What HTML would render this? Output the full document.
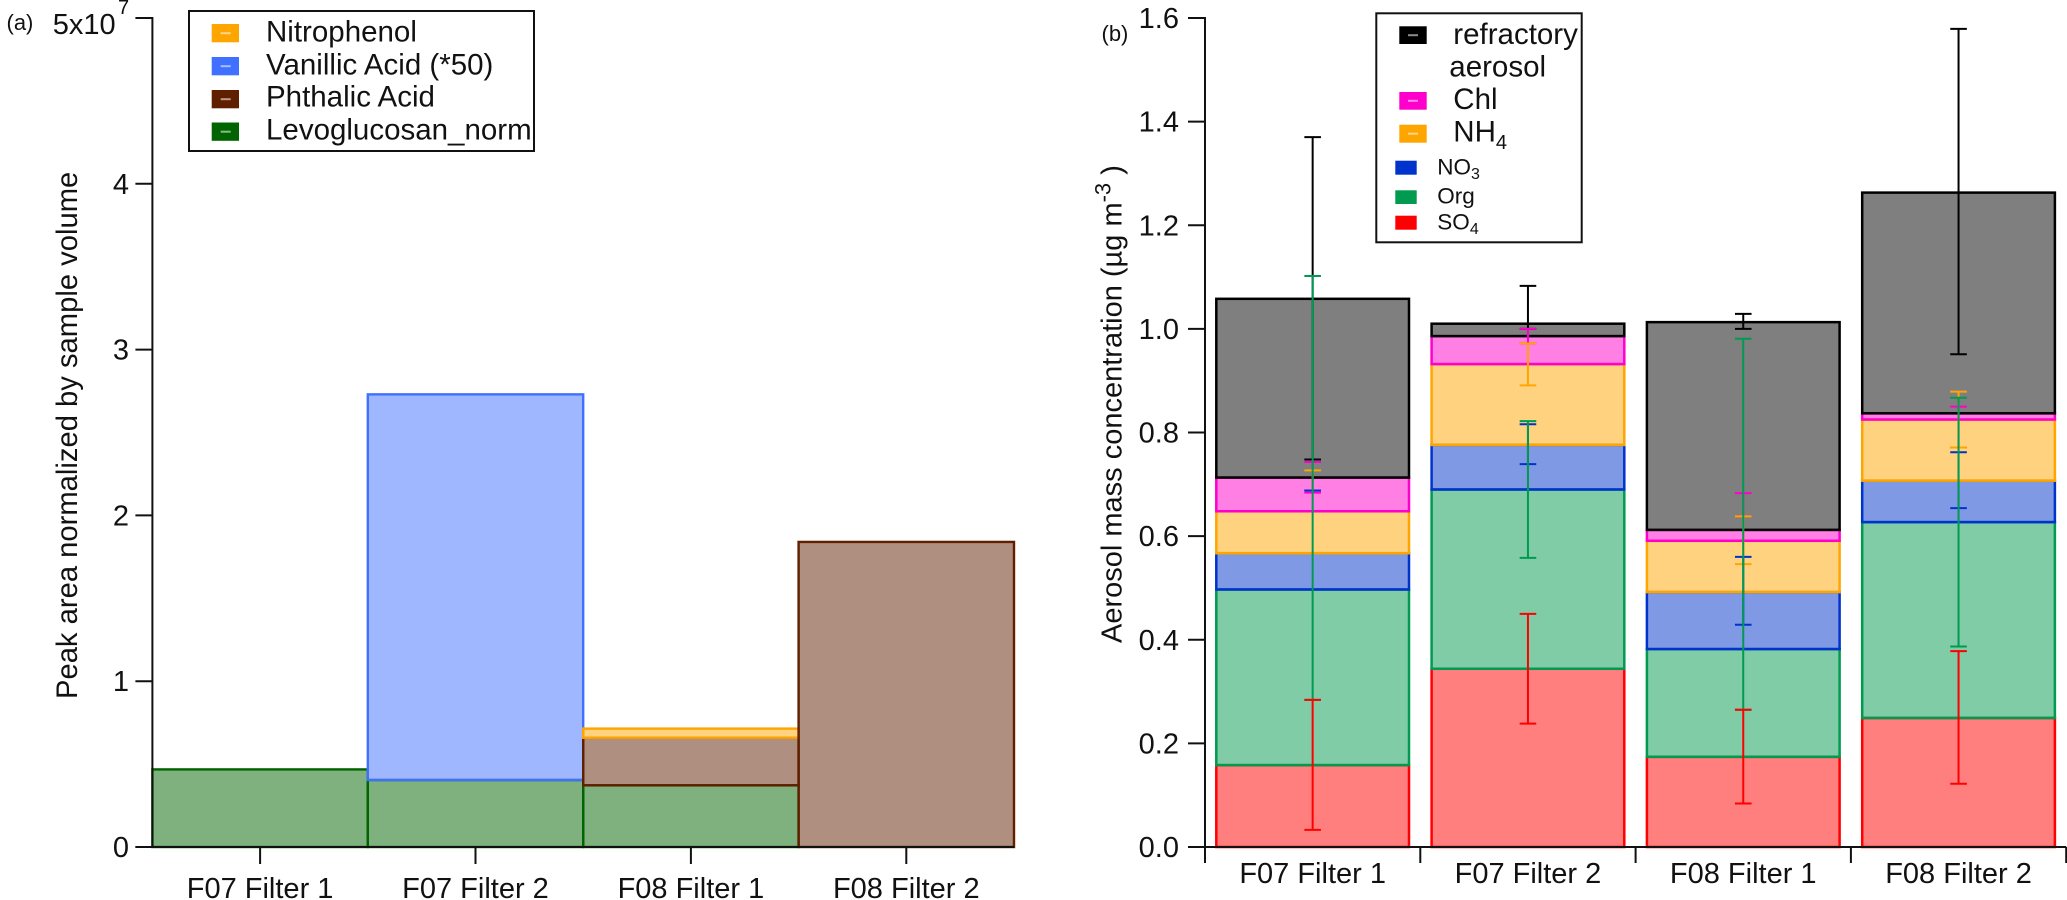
<!DOCTYPE html>
<html lang="en">
<head>
<meta charset="utf-8">
<title>Filter peak areas and aerosol mass concentration</title>
<style>
html,body{margin:0;padding:0;background:#fff;width:2067px;height:900px;overflow:hidden}
svg{display:block}
text{font-family:"Liberation Sans",Arial,sans-serif;fill:#111}
</style>
</head>
<body>
<svg id="chart" xmlns="http://www.w3.org/2000/svg" width="2067" height="900" viewBox="0 0 2067 900">
  <g id="panel-a">
    <text x="6.5" y="30" font-size="22">(a)</text>
    <g id="a-bars"></g>
    <g id="a-axes"></g>
    <text transform="translate(77,699) rotate(-90)" font-size="29.2">Peak area normalized by sample volume</text>
    <g>
      <rect x="189" y="11" width="345" height="140" fill="#fff" stroke="#111" stroke-width="2"/>
      <rect x="211.7" y="24" width="27.3" height="18.3" fill="#ffa500"/>
      <line x1="220.7" x2="230.7" y1="33.2" y2="33.2" stroke="#fff" stroke-opacity=".55" stroke-width="2"/>
      <text x="266" y="41.7" font-size="29.5">Nitrophenol</text>
      <rect x="211.7" y="57" width="27.3" height="18.3" fill="#4070ff"/>
      <line x1="220.7" x2="230.7" y1="66.2" y2="66.2" stroke="#fff" stroke-opacity=".55" stroke-width="2"/>
      <text x="266" y="74.3" font-size="29.5">Vanillic Acid (*50)</text>
      <rect x="211.7" y="90" width="27.3" height="18.3" fill="#602000"/>
      <line x1="220.7" x2="230.7" y1="99.2" y2="99.2" stroke="#fff" stroke-opacity=".55" stroke-width="2"/>
      <text x="266" y="106.7" font-size="29.5">Phthalic Acid</text>
      <rect x="211.7" y="122.5" width="27.3" height="18.3" fill="#006400"/>
      <line x1="220.7" x2="230.7" y1="131.7" y2="131.7" stroke="#fff" stroke-opacity=".55" stroke-width="2"/>
      <text x="266" y="139.3" font-size="29.5">Levoglucosan_norm</text>
    </g>
  </g>
  <g id="panel-b">
    <text x="1101.5" y="41" font-size="22">(b)</text>
    <g id="b-bars"></g>
    <g id="b-errors"></g>
    <g id="b-axes"></g>
    <text transform="translate(1121.5,643) rotate(-90)" font-size="29">Aerosol mass concentration (µg m<tspan dy="-11" font-size="22">-3</tspan><tspan dy="11"> )</tspan></text>
    <g>
      <rect x="1376.3" y="13.3" width="205.4" height="229" fill="#fff" stroke="#111" stroke-width="2"/>
      <rect x="1399.3" y="26.3" width="27.4" height="17.7" fill="#000"/>
      <line x1="1408" x2="1418" y1="35.2" y2="35.2" stroke="#fff" stroke-opacity=".55" stroke-width="2"/>
      <text x="1453.3" y="44" font-size="29.5">refractory</text>
      <text x="1449.3" y="76.3" font-size="29.5">aerosol</text>
      <rect x="1399.3" y="92" width="27.4" height="17.7" fill="#ff00cc"/>
      <line x1="1408" x2="1418" y1="100.8" y2="100.8" stroke="#fff" stroke-opacity=".55" stroke-width="2"/>
      <text x="1453.3" y="109" font-size="29.5">Chl</text>
      <rect x="1399.3" y="124.7" width="27.4" height="18" fill="#ffa500"/>
      <line x1="1408" x2="1418" y1="133.7" y2="133.7" stroke="#fff" stroke-opacity=".55" stroke-width="2"/>
      <text x="1453.3" y="141.7" font-size="29.5">NH<tspan dy="7.5" font-size="20">4</tspan></text>
      <rect x="1395.3" y="160.7" width="21.4" height="14" fill="#0033cc"/>
      <text x="1437.3" y="174.3" font-size="22.5">NO<tspan dy="4.5" font-size="16">3</tspan></text>
      <rect x="1395.3" y="190.3" width="21.4" height="13.7" fill="#009a50"/>
      <text x="1437.3" y="203.3" font-size="22.5">Org</text>
      <rect x="1395.3" y="215.7" width="21.4" height="14" fill="#ff0000"/>
      <text x="1437.3" y="229.3" font-size="22.5">SO<tspan dy="4.5" font-size="16">4</tspan></text>
    </g>
  </g>
</svg>
<script>
// Shared categories
const categories = ["F07 Filter 1", "F07 Filter 2", "F08 Filter 1", "F08 Filter 2"];

// Panel (a): stacked values, in units of 1e7
const levoglucosan = [0.468, 0.404, 0.372, 0];
const phthalicAcid = [0, 0, 0.287, 1.84];
const vanillicAcid = [0, 2.326, 0, 0];
const nitrophenol = [0, 0, 0.055, 0];
const aTicks = [0, 1, 2, 3, 4];
const aTickLabels = ["0", "1", "2", "3", "4"];

// Panel (b): stacked segment values
const so4 = [0.158, 0.344, 0.174, 0.249];
const org = [0.339, 0.346, 0.208, 0.378];
const no3 = [0.070, 0.086, 0.110, 0.080];
const nh4 = [0.081, 0.156, 0.099, 0.118];
const chl = [0.065, 0.054, 0.021, 0.012];
const refractory = [0.345, 0.024, 0.401, 0.426];
const bTicks = [0, 0.2, 0.4, 0.6, 0.8, 1.0, 1.2, 1.4, 1.6];
const bTickLabels = ["0.0", "0.2", "0.4", "0.6", "0.8", "1.0", "1.2", "1.4", "1.6"];

// Panel (b): error bar ends
const refractoryHigh = [1.370, 1.083, 1.029, 1.579];
const refractoryLow = [0.748, 1.000, 1.000, 0.951];
const chlHigh = [0.743, 1.000, 0.683, 0.850];
const chlLow = [0.684, 0.972, 0.638, 0.771];
const nh4High = [0.727, 0.972, 0.638, 0.879];
const nh4Low = [0.688, 0.891, 0.546, 0.771];
const no3High = [0.688, 0.816, 0.560, 0.762];
const no3Low = [0.688, 0.739, 0.429, 0.654];
const orgHigh = [1.102, 0.822, 0.981, 0.867];
const orgLow = [0.284, 0.558, 0.265, 0.387];
const so4High = [0.284, 0.450, 0.265, 0.378];
const so4Low = [0.033, 0.238, 0.084, 0.122];

const NS = "http://www.w3.org/2000/svg";
function make(tag, attrs, parent) {
  const el = document.createElementNS(NS, tag);
  for (const k in attrs) el.setAttribute(k, attrs[k]);
  parent.appendChild(el);
  return el;
}

const Y_ZERO = 847;
const Y_TOP = 18;
function yA(v) { return Y_ZERO - v * (Y_ZERO - Y_TOP) / 5; }
function yB(v) { return Y_ZERO - v * (Y_ZERO - Y_TOP) / 1.6; }
const A_LEFT = 152.4;
const A_STEP = 215.4;
function xA(i) { return A_LEFT + i * A_STEP; }
const B_LEFT = 1205;
const B_STEP = 215.3;
const B_WIDTH = 192.7;
function xB(i) { return B_LEFT + (i + 0.5) * B_STEP; }

const aSeries = [
  { key: "levoglucosan", values: levoglucosan, color: "#006400" },
  { key: "phthalic-acid", values: phthalicAcid, color: "#602000" },
  { key: "vanillic-acid", values: vanillicAcid, color: "#4070ff" },
  { key: "nitrophenol", values: nitrophenol, color: "#ffa500" }
];
const bSeries = [
  { key: "so4", values: so4, color: "#ff0000", high: so4High, low: so4Low },
  { key: "org", values: org, color: "#009a50", high: orgHigh, low: orgLow },
  { key: "no3", values: no3, color: "#0033cc", high: no3High, low: no3Low },
  { key: "nh4", values: nh4, color: "#ffa500", high: nh4High, low: nh4Low },
  { key: "chl", values: chl, color: "#ff00cc", high: chlHigh, low: chlLow },
  { key: "refractory", values: refractory, color: "#000000", high: refractoryHigh, low: refractoryLow }
];

// Panel (a) bars
const aBars = document.getElementById("a-bars");
categories.forEach(function (cat, i) {
  let base = 0;
  aSeries.forEach(function (s) {
    const v = s.values[i];
    const top = base + v;
    if (v > 0) {
      const r = make("rect", {
        x: xA(i), y: yA(top), width: A_STEP, height: yA(base) - yA(top),
        fill: s.color, "fill-opacity": 0.5, stroke: s.color, "stroke-width": 2.4
      }, aBars);
      
      
    }
    base = top;
  });
});

// Panel (b) bars
const bBars = document.getElementById("b-bars");
categories.forEach(function (cat, i) {
  let base = 0;
  bSeries.forEach(function (s) {
    const v = s.values[i];
    const top = base + v;
    const r = make("rect", {
      x: xB(i) - B_WIDTH / 2, y: yB(top), width: B_WIDTH, height: yB(base) - yB(top),
      fill: s.color, "fill-opacity": 0.5, stroke: s.color, "stroke-width": 2.5
    }, bBars);
    
    
    base = top;
  });
});

// Panel (b) error bars, drawn refractory first and SO4 last
const bErrors = document.getElementById("b-errors");
const errorOrder = [5, 4, 3, 2, 1, 0];
errorOrder.forEach(function (si) {
  const s = bSeries[si];
  categories.forEach(function (cat, i) {
    const cx = xB(i);
    const g = make("g", { stroke: s.color, "stroke-width": 2, fill: "none" }, bErrors);
    
    
    make("line", { x1: cx, x2: cx, y1: yB(s.high[i]), y2: yB(s.low[i]) }, g);
    make("line", { x1: cx - 8.3, x2: cx + 8.3, y1: yB(s.high[i]), y2: yB(s.high[i]) }, g);
    make("line", { x1: cx - 8.3, x2: cx + 8.3, y1: yB(s.low[i]), y2: yB(s.low[i]) }, g);
  });
});

// Axes
const AXIS = { stroke: "#111", "stroke-width": 2 };
function axisLine(parent, x1, y1, x2, y2, name) {
  const l = make("line", { x1: x1, y1: y1, x2: x2, y2: y2, stroke: AXIS.stroke, "stroke-width": AXIS["stroke-width"] }, parent);
  
  
  return l;
}
function label(parent, x, y, anchor, txt, name) {
  const t = make("text", { x: x, y: y, "text-anchor": anchor, "font-size": 29 }, parent);
  t.textContent = txt;
  
  
  return t;
}

const aAxes = document.getElementById("a-axes");
axisLine(aAxes, A_LEFT, Y_TOP - 1, A_LEFT, Y_ZERO + 1, "y-axis-a");
axisLine(aAxes, A_LEFT - 17, Y_ZERO, xA(4), Y_ZERO, "x-axis-a");
axisLine(aAxes, A_LEFT - 17, yA(5), A_LEFT, yA(5), "y-tick-a-top");
aTicks.forEach(function (v, i) {
  axisLine(aAxes, A_LEFT - 17, yA(v), A_LEFT, yA(v), "y-tick-a-" + i);
  label(aAxes, 129, yA(v) + 10, "end", aTickLabels[i], "y-tick-label-a-" + i);
});
const topTick = label(aAxes, 52.7, 34, "start", "5x10", "y-tick-label-a-top");
const topExp = make("tspan", { x: 118, y: 14, "font-size": 20 }, topTick);
topExp.textContent = "7";
categories.forEach(function (cat, i) {
  const cx = xA(i) + A_STEP / 2;
  axisLine(aAxes, cx, Y_ZERO, cx, Y_ZERO + 17, "x-tick-a-" + i);
  label(aAxes, cx, 898, "middle", cat, "x-tick-label-a-" + i);
});

const bAxes = document.getElementById("b-axes");
axisLine(bAxes, B_LEFT, Y_TOP - 1, B_LEFT, Y_ZERO + 16, "y-axis-b");
axisLine(bAxes, B_LEFT - 17, Y_ZERO, B_LEFT + 4 * B_STEP, Y_ZERO, "x-axis-b");
bTicks.forEach(function (v, i) {
  axisLine(bAxes, B_LEFT - 17, yB(v), B_LEFT, yB(v), "y-tick-b-" + i);
  label(bAxes, 1179, yB(v) + 10, "end", bTickLabels[i], "y-tick-label-b-" + i);
});
categories.forEach(function (cat, i) {
  const xr = B_LEFT + (i + 1) * B_STEP;
  axisLine(bAxes, xr, Y_ZERO, xr, Y_ZERO + 16, "x-tick-b-" + i);
  label(bAxes, xB(i), 883, "middle", cat, "x-tick-label-b-" + i);
});
</script>
</body>
</html>
